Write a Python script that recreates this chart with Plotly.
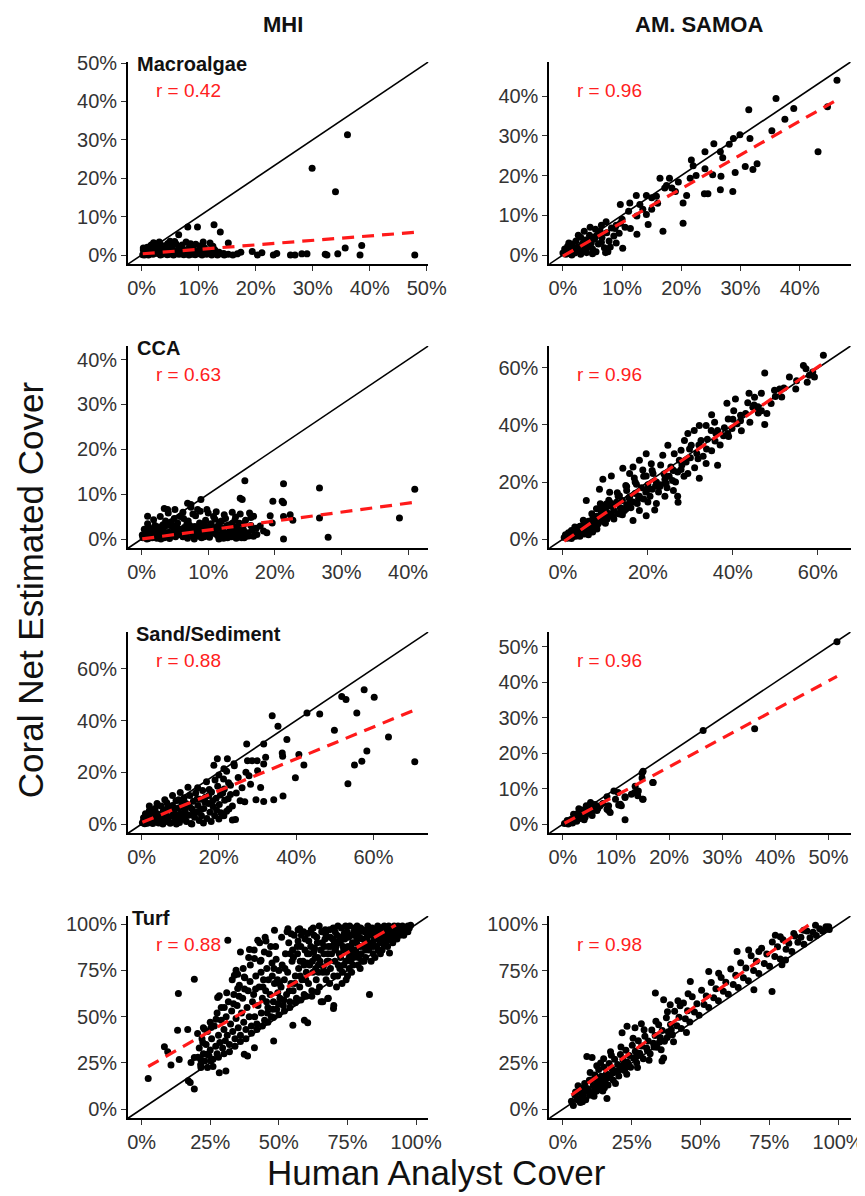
import plotly.graph_objects as go

# Geometry is specified in target-picture pixels (865x1196) and mapped to page pixels.
# Measured on the previous renders: picture_x = 0.98 * page_x, picture_y = 8 + 0.9933 * page_y
SX, TY, SY = 0.98, 8.0, 0.9933
OFF = 8  # default body margin of the page
W, H = 875, 1188


def fx(P):
    return (P / SX - OFF) / W


def fy(P):
    return 1 - ((P - TY) / SY - OFF) / H


# ---------------- data (percent cover) ----------------
PANEL_NAMES = ["Macroalgae", "", "CCA", "", "Sand/Sediment", "", "Turf", ""]
COLUMN_TITLES = ["MHI", "AM. SAMOA"]
R_LABELS = ["r = 0.42", "r = 0.96", "r = 0.63", "r = 0.96",
            "r = 0.88", "r = 0.96", "r = 0.88", "r = 0.98"]
# regression lines: intercept, slope
REG_INTERCEPT = [0.3, -0.3, 0.0, -1.1, 0.57, 0.0, 21.0, 4.3]
REG_SLOPE = [0.117, 0.85, 0.2, 1.024, 0.616, 0.807, 0.848, 1.068]
TICK_STEP = [10, 10, 10, 20, 20, 10, 25, 25]

MHI_MACRO = [
    (36.1, 31.3), (29.9, 22.6), (34.0, 16.5), (12.7, 7.9), (9.8, 7.3), (8.1, 7.3),
    (6.5, 5.3), (13.8, 6.0), (15.2, 3.1), (10.8, 3.4), (12.0, 3.1), (10.3, 1.8),
    (7.8, 3.4), (8.6, 2.9), (5.8, 3.5), (4.6, 3.0), (3.1, 3.4), (1.6, 2.4), (0.3, 1.3),
    (17.4, 0.7), (19.4, 0.9), (20.3, 0.0), (21.1, 0.6), (23.1, 0.0), (23.7, 0.4),
    (26.1, 0.0), (26.9, 0.0), (28.1, 0.3), (29.0, 0.3), (32.2, 0.2), (32.5, 0.0),
    (34.4, 0.3), (35.7, 1.8), (38.3, 0.0), (38.6, 2.5), (47.9, 0.0),
    (0.2, 0.1), (0.5, 0.8), (0.8, 0.3), (1.0, 1.2), (1.2, 0.0), (1.5, 0.6), (1.8, 1.5),
    (2.0, 0.2), (2.3, 0.9), (2.6, 2.0), (2.8, 0.4), (3.0, 1.1), (3.3, 0.0), (3.5, 1.8),
    (3.8, 0.5), (4.0, 2.4), (4.2, 0.9), (4.5, 0.1), (4.8, 1.4), (5.0, 0.4), (5.3, 2.0),
    (5.6, 0.0), (5.9, 1.0), (6.2, 0.3), (6.5, 1.7), (6.8, 0.6), (7.1, 2.6), (7.4, 0.1),
    (7.7, 1.2), (8.0, 0.4), (8.3, 0.0), (8.7, 1.6), (9.0, 0.5), (9.4, 0.1), (9.8, 1.1),
    (10.2, 0.3), (10.6, 0.0), (11.0, 0.8), (11.4, 0.2), (11.8, 1.4), (12.3, 0.0),
    (12.8, 0.5), (13.3, 0.0), (13.8, 0.3), (14.5, 0.0), (15.2, 0.2), (16.0, 0.0),
    (16.8, 0.3), (2.1, 3.2), (3.2, 2.8), (5.0, 3.6), (6.0, 2.9), (8.4, 2.2), (9.5, 2.8),
    (11.0, 1.9), (12.5, 2.3), (13.0, 1.0), (0.5, 0.0), (1.4, 0.3), (2.5, 0.6), (3.6, 0.2),
    (4.4, 0.7), (5.5, 0.5), (6.6, 0.2), (7.5, 0.8), (8.8, 0.2), (10.0, 0.6), (1.0, 2.0),
    (1.7, 2.6), (0.3, 1.8),
    (0.8, 0.8), (1.6, 1.0), (2.4, 1.4), (3.2, 0.8), (4.0, 1.5), (4.8, 0.2), (5.6, 1.2),
    (6.4, 0.9), (7.2, 1.6), (8.0, 1.0), (8.8, 1.3), (9.6, 0.7), (10.4, 1.2), (11.2, 0.5),
    (12.0, 0.8), (12.8, 1.4), (13.6, 0.7), (14.4, 0.4), (2.0, 1.8), (3.6, 2.2),
    (5.2, 1.6), (6.8, 2.0), (9.0, 2.0), (10.6, 2.6),
]

AS_MACRO = [
    (46.3, 44.0), (44.7, 37.3), (43.1, 26.0), (36.0, 39.4), (31.4, 36.6), (39.0, 36.9),
    (37.5, 34.2), (35.3, 31.3), (29.9, 30.3), (28.8, 29.3), (31.6, 29.3), (25.5, 28.0),
    (26.6, 26.0), (28.1, 27.9), (24.0, 26.0), (21.7, 23.9), (22.0, 22.5), (24.0, 21.7),
    (25.3, 20.2), (26.7, 19.8), (29.1, 20.8), (30.8, 22.3), (32.1, 21.5), (32.8, 23.0),
    (26.6, 16.4), (28.7, 16.0), (23.9, 15.4), (24.5, 15.4), (20.9, 15.0), (20.3, 13.1),
    (21.5, 19.3), (19.5, 18.4), (18.4, 16.9), (17.2, 16.9), (16.4, 19.3), (18.0, 19.3),
    (20.3, 8.0), (16.9, 6.0), (14.1, 15.0), (15.0, 14.4), (15.8, 14.8), (12.4, 15.0),
    (13.0, 12.7), (14.1, 10.2), (15.0, 11.5), (11.3, 13.1), (9.7, 12.7), (11.1, 11.0),
    (12.5, 9.8), (9.7, 8.0), (11.4, 6.7), (8.8, 6.7), (12.5, 5.2), (14.4, 7.7),
    (10.1, 1.7), (7.6, 0.8), (6.5, 7.5), (7.3, 8.4), (6.2, 5.4), (5.4, 4.2),
    (17.5, 17.5), (19.0, 16.0), (22.5, 20.0), (27.0, 24.5), (16.0, 13.0), (13.5, 11.5),
    (0.0, 0.5), (0.3, 1.5), (0.5, 0.2), (0.8, 2.2), (1.0, 1.0), (1.2, 0.3), (1.5, 2.8),
    (1.8, 1.4), (2.0, 0.5), (2.2, 3.5), (2.5, 2.0), (2.8, 0.8), (3.0, 4.5), (3.2, 2.6),
    (3.5, 1.2), (3.8, 3.8), (4.0, 0.6), (4.2, 2.2), (4.5, 5.0), (4.8, 3.0), (5.0, 1.5),
    (5.3, 4.0), (5.6, 0.8), (6.0, 2.8), (6.3, 6.0), (6.6, 4.4), (7.0, 1.8), (7.4, 5.6),
    (7.8, 3.5), (8.2, 6.8), (8.6, 4.8), (9.0, 7.5), (9.5, 5.5), (10.0, 9.0), (10.5, 7.0),
    (2.0, 1.8), (3.0, 0.2), (4.0, 1.8), (5.0, 0.3), (1.0, 3.0), (2.6, 5.0), (3.6, 6.0),
    (4.6, 7.0), (5.5, 6.5), (1.5, 0.0), (6.5, 3.2), (7.2, 0.6), (8.0, 2.0), (9.0, 3.0),
    (0.5, 1.0), (1.2, 1.8), (2.4, 0.9), (3.4, 3.0), (4.4, 4.0), (5.8, 5.0),
]

MHI_CCA = [
    (41.0, 11.1), (38.7, 4.7), (28.0, 0.4), (26.7, 11.4), (26.7, 4.7), (21.3, 12.3),
    (21.1, 8.4), (21.3, 8.1), (19.7, 8.4), (21.3, 5.0), (21.3, 0.0), (22.7, 4.2),
    (22.3, 5.4), (19.3, 5.2), (19.6, 3.6), (15.5, 13.0), (14.8, 9.1), (15.1, 8.8),
    (8.9, 8.8), (7.4, 7.7), (8.4, 6.6), (6.9, 8.0), (3.9, 6.6), (0.9, 5.1),
    (16.8, 5.1), (17.8, 2.9), (18.3, 1.8), (17.3, 1.0), (18.8, 1.4), (16.1, 0.7), (15.4, 0.3),
    (0.2, 0.3), (0.6, 1.2), (1.0, 0.1), (1.3, 2.0), (1.7, 0.8), (2.0, 3.0), (2.3, 0.2),
    (2.6, 1.6), (3.0, 0.6), (3.3, 2.4), (3.6, 4.0), (3.9, 1.0), (4.2, 0.1), (4.5, 2.9),
    (4.8, 1.7), (5.1, 0.5), (5.4, 3.6), (5.7, 2.2), (6.0, 0.9), (6.3, 4.6), (6.6, 1.4),
    (6.9, 0.2), (7.2, 3.1), (7.5, 2.0), (7.8, 0.7), (8.1, 5.2), (8.4, 1.1), (8.7, 3.6),
    (9.0, 0.3), (9.3, 2.5), (9.6, 4.2), (9.9, 1.5), (10.2, 0.4), (10.5, 3.0), (10.8, 5.0),
    (11.1, 1.9), (11.4, 0.8), (11.7, 3.8), (12.0, 2.6), (12.3, 0.2), (12.6, 4.6),
    (12.9, 1.3), (13.2, 3.2), (13.5, 0.5), (13.8, 2.3), (14.1, 4.9), (14.4, 1.0),
    (14.7, 3.5), (15.0, 0.3), (15.3, 2.0), (15.6, 4.2), (16.0, 1.4), (16.4, 3.0),
    (0.4, 2.2), (0.9, 3.4), (1.8, 4.3), (2.8, 5.0), (4.0, 5.8), (5.0, 6.6), (6.2, 6.0),
    (7.4, 7.1), (8.8, 6.2), (10.0, 5.8), (11.2, 6.1), (12.4, 5.4), (13.6, 6.0),
    (14.8, 5.6), (16.2, 5.8), (3.4, 6.8), (1.5, 1.5), (2.5, 2.7), (3.5, 1.2), (4.4, 3.8),
    (5.6, 1.0), (6.4, 2.6), (7.0, 4.0), (8.0, 2.8), (8.6, 0.6), (9.4, 3.4), (10.4, 1.8),
    (11.0, 4.4), (11.8, 1.0), (12.8, 3.0), (13.4, 1.8), (14.2, 0.2), (2.2, 1.0),
    (3.2, 3.2), (4.6, 0.8), (5.3, 2.0), (6.8, 3.4), (7.6, 1.2), (9.2, 1.8), (10.8, 2.4),
    (12.2, 1.6), (0.1, 0.9), (1.1, 2.6), (2.9, 0.0), (4.9, 4.6), (7.9, 0.0), (11.6, 0.0),
    (13.1, 0.9), (15.5, 1.0), (16.8, 0.6), (17.2, 2.4),
    (0.5, 0.6), (1.2, 1.0), (1.9, 1.9), (2.7, 0.9), (3.4, 0.3), (4.1, 1.5), (4.8, 2.4),
    (5.5, 1.4), (6.2, 0.5), (6.9, 1.8), (7.6, 2.7), (8.3, 1.7), (9.0, 1.0), (9.7, 2.2),
    (10.4, 3.4), (11.1, 1.2), (11.8, 2.4), (12.5, 0.6), (13.2, 2.6), (13.9, 1.2),
    (14.6, 2.0), (15.3, 3.2), (0.8, 0.0), (1.6, 0.3), (2.4, 1.3), (3.1, 2.0), (3.8, 3.0),
    (4.5, 1.1), (5.2, 3.0), (5.9, 1.8), (6.6, 0.9), (7.3, 2.4), (8.0, 1.3), (8.7, 2.3),
    (9.4, 0.5), (10.1, 2.8), (10.8, 1.4), (11.5, 3.0), (12.2, 2.2), (12.9, 0.3),
    (13.6, 3.5), (14.3, 2.7), (15.0, 1.6), (15.7, 0.6), (16.6, 2.0), (5.8, 5.0),
    (7.7, 5.6), (9.8, 6.6), (12.0, 4.0), (14.0, 4.2), (16.4, 4.8),
]

AS_CCA = [
    (61.3, 64.5), (56.6, 60.9), (57.2, 59.7), (58.8, 58.6), (58.0, 57.4), (59.2, 56.8),
    (53.3, 56.8), (47.5, 58.2), (54.8, 52.6), (49.8, 52.2), (51.0, 52.6), (46.7, 51.1),
    (45.1, 49.7), (43.8, 51.1), (44.7, 46.2), (45.9, 46.4), (46.7, 45.0), (47.5, 40.2),
    (40.6, 49.1), (38.6, 47.6), (40.2, 45.0), (38.9, 42.1), (41.0, 40.4), (41.8, 41.5),
    (35.0, 43.6), (35.7, 41.0), (36.4, 38.1), (38.8, 37.0), (34.9, 38.1), (33.7, 39.8),
    (32.1, 39.8), (30.9, 38.1), (29.4, 37.0), (28.6, 34.6), (30.2, 32.9), (32.5, 34.6),
    (36.4, 25.9), (33.7, 26.5), (32.1, 21.3), (29.4, 23.0), (27.4, 27.6), (27.8, 31.1),
    (26.2, 29.9), (25.4, 25.3), (24.7, 32.9), (23.5, 29.4), (25.9, 24.2), (24.3, 19.6),
    (22.8, 18.4), (21.2, 23.0), (27.1, 12.9), (21.6, 10.2), (19.6, 29.9), (18.0, 27.6),
    (16.5, 25.3), (15.7, 23.0), (14.1, 24.8), (19.6, 22.1), (17.3, 19.2), (15.0, 18.4),
    (11.4, 22.1), (9.4, 21.0), (8.6, 17.5), (11.0, 16.4), (13.3, 15.2), (15.7, 14.7),
    (12.6, 12.9), (10.2, 12.3), (5.5, 13.5), (7.9, 10.6), (10.2, 9.4), (13.3, 8.8),
    (14.9, 10.6), (16.5, 6.5), (19.6, 8.2),
    (0.3, 0.5), (0.6, 1.5), (1.0, 0.3), (1.3, 2.2), (1.6, 1.0), (2.0, 3.0), (2.3, 0.8),
    (2.6, 2.0), (3.0, 3.8), (3.3, 1.5), (3.6, 2.8), (4.0, 4.5), (4.3, 2.0), (4.6, 3.5),
    (5.0, 5.5), (5.3, 2.8), (5.6, 4.2), (6.0, 6.2), (6.3, 3.5), (6.6, 5.0), (7.0, 7.0),
    (7.3, 4.5), (7.6, 6.0), (8.0, 8.0), (8.3, 5.4), (8.6, 7.0), (9.0, 9.2), (9.3, 6.2),
    (9.6, 8.0), (10.0, 10.5), (10.4, 7.0), (10.8, 9.0), (11.2, 11.5), (11.6, 8.0),
    (12.0, 10.0), (12.5, 12.5), (13.0, 9.0), (13.5, 11.0), (14.0, 13.5), (14.5, 10.0),
    (15.0, 12.0), (15.5, 14.5), (16.0, 11.0), (16.5, 13.0), (17.0, 16.0), (17.5, 12.5),
    (18.0, 15.0), (18.5, 18.0), (19.0, 14.0), (19.5, 16.5), (20.0, 19.0), (20.5, 15.0),
    (21.0, 17.5), (22.0, 20.0), (22.5, 16.5), (23.0, 19.0), (24.0, 21.0), (24.5, 18.0),
    (25.0, 22.0), (26.0, 24.0), (26.5, 20.0), (27.0, 23.5), (28.0, 26.0), (28.5, 22.0),
    (29.0, 27.0), (30.0, 28.5), (31.0, 25.0), (31.5, 30.0), (32.0, 33.0), (33.0, 29.0),
    (34.0, 35.0), (35.0, 31.0), (36.0, 37.0), (37.0, 33.0), (38.0, 39.0), (39.0, 36.0),
    (40.0, 42.0), (42.0, 38.0), (43.0, 44.0), (44.0, 41.0), (45.0, 47.0), (48.0, 44.0),
    (50.0, 50.0), (52.0, 53.0), (6.0, 1.5), (8.0, 3.5), (10.0, 5.5), (12.0, 7.0),
    (14.0, 8.5), (4.0, 1.0), (9.0, 11.0), (11.0, 13.0), (13.0, 15.0), (15.0, 17.0),
    (17.0, 20.0), (19.0, 22.0), (21.0, 24.0), (23.0, 26.0), (18.0, 10.0), (20.0, 13.0),
    (22.0, 12.5), (24.0, 15.0), (26.0, 17.0), (27.0, 15.0), (2.0, 0.2), (3.0, 1.0),
    (5.0, 1.8), (7.0, 2.5),
    (2.8, 4.2), (4.8, 6.6), (6.8, 8.9), (8.8, 12.4), (10.8, 13.6), (12.8, 16.2),
    (14.8, 18.8), (16.8, 21.4), (18.8, 24.2), (20.8, 26.4), (3.8, 1.6), (5.8, 3.2),
    (7.8, 4.4), (9.8, 6.0), (11.8, 7.8), (13.8, 10.8), (15.8, 12.8), (17.8, 14.2),
    (19.8, 17.2), (21.8, 18.6), (23.8, 22.8), (25.8, 20.5), (27.8, 24.4), (29.8, 31.6),
    (31.8, 28.2), (33.8, 31.6), (35.8, 34.4), (37.8, 36.2), (39.8, 38.8), (41.8, 43.4),
    (43.5, 47.8), (46.0, 44.2), (49.0, 47.5), (51.5, 49.8), (55.0, 55.5), (57.5, 55.0),
    (1.8, 2.4), (2.5, 1.2), (3.5, 3.4), (4.5, 2.4), (5.5, 4.8), (6.5, 3.0), (7.5, 5.2),
    (8.5, 6.4), (9.5, 7.4), (10.5, 8.4),
]

MHI_SAND = [
    (70.7, 24.1), (63.9, 33.6), (60.2, 49.0), (57.6, 51.9), (51.8, 49.3), (52.9, 48.1),
    (55.7, 42.9), (49.9, 36.3), (58.3, 28.2), (57.0, 24.3), (55.1, 22.8), (53.4, 15.6),
    (46.1, 42.5), (42.8, 42.9), (33.8, 41.9), (35.3, 37.8), (37.6, 32.7), (36.4, 27.5),
    (36.5, 26.2), (40.7, 26.9), (42.0, 22.8), (39.8, 17.9), (36.6, 10.9), (34.2, 9.4),
    (31.6, 8.7), (29.6, 9.4), (27.2, 30.9), (31.6, 30.9), (28.6, 24.5), (29.9, 24.5),
    (31.6, 23.2), (32.1, 25.8), (27.4, 24.5), (30.0, 20.6), (27.8, 18.7), (28.2, 15.4),
    (30.8, 14.1), (26.7, 8.6), (19.6, 25.2), (22.2, 25.2), (18.7, 22.7), (21.3, 21.4),
    (23.9, 23.3), (22.6, 5.8), (24.3, 1.8), (23.5, 1.6), (21.3, 3.2),
    (0.2, 0.5), (0.5, 2.5), (0.8, 0.1), (1.0, 4.0), (1.2, 1.2), (1.5, 0.3), (1.8, 2.8),
    (2.0, 5.2), (2.3, 1.0), (2.6, 3.6), (2.9, 0.2), (3.2, 2.0), (3.5, 6.0), (3.8, 4.2),
    (4.1, 1.3), (4.4, 0.4), (4.7, 3.2), (5.0, 7.0), (5.3, 2.2), (5.6, 5.0), (5.9, 0.8),
    (6.2, 3.8), (6.5, 8.2), (6.8, 1.6), (7.1, 5.8), (7.4, 0.3), (7.7, 3.0), (8.0, 7.2),
    (8.3, 4.4), (8.6, 1.2), (8.9, 9.0), (9.2, 2.4), (9.5, 6.2), (9.8, 0.6), (10.1, 4.0),
    (10.4, 8.0), (10.7, 2.0), (11.0, 10.2), (11.3, 5.2), (11.6, 1.0), (11.9, 7.0),
    (12.2, 3.4), (12.5, 11.0), (12.8, 0.2), (13.1, 5.8), (13.4, 8.8), (13.7, 2.6),
    (14.0, 12.0), (14.3, 4.6), (14.6, 7.2), (14.9, 1.4), (15.2, 9.6), (15.5, 3.2),
    (15.8, 13.0), (16.1, 6.0), (16.5, 10.4), (16.9, 2.2), (17.3, 8.0), (17.7, 4.6),
    (18.1, 12.4), (18.5, 6.8), (18.9, 3.2), (19.3, 10.0), (19.7, 14.6), (20.1, 7.6),
    (20.5, 4.4), (21.0, 12.0), (21.5, 9.2), (22.0, 5.0), (22.5, 16.0), (23.0, 11.4),
    (23.5, 7.0), (12.0, 14.2), (10.0, 12.2), (8.0, 11.0), (6.0, 9.4), (4.0, 8.0),
    (2.0, 7.0), (5.5, 0.0), (9.0, 0.0), (13.0, 0.0), (16.0, 0.4), (18.0, 1.0), (20.0, 2.0),
    (3.0, 3.0), (6.6, 6.0), (9.6, 9.4), (11.5, 8.0), (14.5, 14.0), (16.8, 16.4),
    (20.0, 19.0), (22.0, 20.4), (24.0, 22.5), (19.0, 17.0), (17.5, 13.4), (25.0, 18.0),
    (26.0, 14.0), (24.5, 12.0), (27.0, 20.0), (25.5, 9.0), (23.0, 15.0), (21.2, 17.4),
    (0.5, 1.2), (1.4, 3.4), (2.4, 2.2), (3.4, 4.8), (4.4, 2.6), (5.4, 4.0), (6.4, 1.8),
    (7.4, 6.8), (8.4, 5.6), (9.4, 3.6), (10.4, 6.4), (11.4, 3.0), (12.4, 6.8),
    (13.4, 4.0), (14.4, 9.8), (15.4, 5.6), (16.4, 8.4), (17.4, 11.0), (18.4, 9.0),
    (19.4, 5.4), (20.4, 11.2), (21.4, 13.6), (22.4, 9.8),
]

AS_SAND = [
    (51.6, 51.4), (26.4, 26.4), (36.1, 26.9), (16.9, 11.7), (14.9, 14.4), (14.9, 13.0),
    (13.6, 10.7), (14.2, 9.3), (15.1, 7.0), (12.9, 8.4), (11.7, 7.7), (9.9, 7.0),
    (10.5, 5.4), (8.3, 7.7), (8.3, 4.2), (8.9, 3.3), (10.8, 5.6), (11.7, 1.2), (9.6, 9.3),
    (15.1, 14.9), (17.0, 11.7), (13.5, 8.9), (14.1, 8.0), (15.0, 7.0), (11.7, 7.5),
    (10.4, 8.9), (11.0, 5.2), (8.6, 5.2), (8.6, 3.8), (7.0, 5.2), (6.4, 3.8),
    (5.2, 6.1), (4.6, 4.7), (4.0, 3.3), (3.0, 4.3), (3.3, 2.5), (2.7, 1.6),
    (0.3, 0.2), (0.8, 1.0), (1.2, 0.5), (1.5, 1.3), (2.0, 1.0), (2.3, 2.0), (2.6, 0.8),
    (3.0, 1.5), (3.4, 2.6), (3.8, 3.2), (4.2, 2.0), (4.5, 3.8), (5.0, 3.0), (5.3, 4.5),
    (5.8, 4.0), (6.0, 5.5), (4.8, 4.6), (4.4, 5.2), (3.6, 4.0), (2.8, 3.0), (2.0, 2.8),
    (1.0, 0.0), (1.8, 0.3), (2.2, 1.5), (3.0, 2.2), (4.0, 1.2), (5.5, 2.4), (6.6, 4.5),
    (7.5, 5.8),
]

MHI_TURF = [
    (2.4, 16.6), (19.2, 10.8), (17.0, 15.3), (17.7, 14.4), (10.7, 23.8), (13.7, 26.8),
    (8.3, 33.7), (9.5, 31.0), (13.1, 42.7), (13.4, 62.5), (19.2, 70.3), (16.8, 43.1),
    (20.4, 40.9), (31.4, 91.4), (28.3, 19.7), (30.7, 20.6), (48.4, 96.7), (48.1, 36.8),
    (41.1, 33.2), (37.4, 29.6), (38.6, 28.7), (55.1, 45.4), (59.3, 48.1), (60.5, 46.7),
    (69.9, 54.4), (83.0, 62.0), (90.3, 84.5), (65.4, 58.0), (67.8, 59.8), (53.3, 97.6),
    (57.6, 97.6), (54.5, 94.9), (42.3, 91.4), (45.3, 90.9), (44.7, 85.0), (39.3, 86.4),
    (41.1, 81.4), (43.5, 80.5), (34.4, 75.1), (33.8, 72.4), (37.4, 71.5), (35.0, 65.2),
    (27.7, 60.4), (28.3, 61.3), (30.1, 54.9), (27.1, 48.6), (25.3, 44.1), (22.9, 43.2),
    (22.3, 36.0), (19.2, 27.9), (18.0, 25.2), (21.6, 22.5), (25.3, 26.1), (23.8, 29.7),
    (20.5, 28), (21, 33), (21.5, 24), (22, 38), (22.5, 30), (23, 26), (23.5, 35), (24, 42),
    (24.5, 29), (25, 32), (25.5, 38), (26, 27), (26.5, 45), (27, 34), (27.5, 30), (28, 40),
    (28.5, 36), (29, 48), (29.5, 33), (30, 43), (24, 22.5), (26, 23), (28, 28), (30, 30),
    (22.5, 44), (25, 47), (27.5, 52), (29, 55), (30.5, 37), (21.5, 27),
    (30.8, 50), (31.2, 40), (31.6, 58), (32, 35), (32.4, 46), (32.8, 53), (33.2, 42),
    (33.6, 62), (34, 38), (34.4, 49), (34.8, 56), (35.2, 44), (35.6, 67), (36, 40),
    (36.4, 52), (36.8, 60), (37.2, 47), (37.6, 71), (38, 43), (38.4, 55), (38.8, 64),
    (39.2, 50), (39.6, 78), (40, 45), (40.4, 58), (32, 31), (34, 34), (36, 36.5), (38, 38),
    (40, 41), (33, 70), (35, 73), (37, 76), (39, 82), (31, 63), (33.5, 57), (35.5, 61),
    (37.5, 65), (39.5, 69), (36, 85),
    (40.8, 62), (41.2, 50), (41.6, 72), (42, 46), (42.4, 56), (42.8, 66), (43.2, 80),
    (43.6, 52), (44, 60), (44.4, 70), (44.8, 48), (45.2, 64), (45.6, 76), (46, 55),
    (46.4, 84), (46.8, 62), (47.2, 50), (47.6, 72), (48, 58), (48.4, 68), (48.8, 88),
    (49.2, 54), (49.6, 63), (50, 75), (50.4, 60), (41, 86), (43, 90), (45, 93), (47, 88),
    (49, 81), (42, 43), (44, 45), (46, 47), (48, 49.5), (50, 51), (41.5, 65), (43.5, 74),
    (45.5, 58), (47.5, 79), (49.5, 70),
    (50.8, 66), (51.2, 78), (51.6, 56), (52, 70), (52.4, 84), (52.8, 62), (53.2, 74),
    (53.6, 90), (54, 58), (54.4, 68), (54.8, 80), (55.2, 64), (55.6, 94), (56, 72),
    (56.4, 60), (56.8, 84), (57.2, 76), (57.6, 66), (58, 88), (58.4, 70), (58.8, 80),
    (59.2, 62), (59.6, 92), (60, 74), (60.4, 84), (52, 53), (54, 55), (56, 57.5), (58, 59),
    (60, 61), (51, 93), (53, 96), (57, 97), (59, 96), (55, 86), (57, 91),
    (60.8, 68), (61.2, 78), (61.6, 88), (62, 64), (62.4, 74), (62.8, 94), (63.2, 82),
    (63.6, 70), (64, 90), (64.4, 78), (64.8, 66), (65.2, 86), (65.6, 96), (66, 74),
    (66.4, 84), (66.8, 92), (67.2, 70), (67.6, 80), (68, 88), (68.4, 97), (68.8, 76),
    (69.2, 84), (69.6, 92), (70, 72), (70.4, 80), (62, 61), (64, 63.5), (66, 58), (68, 60),
    (70, 56), (61, 84), (63, 87), (65, 80), (67, 95), (69, 88), (60.5, 95), (62.5, 98),
    (64.5, 74), (66.5, 88), (68.5, 68),
    (70.8, 88), (71.2, 94), (71.6, 78), (72, 84), (72.4, 90), (72.8, 98), (73.2, 74),
    (73.6, 86), (74, 92), (74.4, 80), (74.8, 96), (75.2, 88), (75.6, 76), (76, 84),
    (76.4, 94), (76.8, 90), (77.2, 82), (77.6, 98), (78, 86), (78.4, 92), (78.8, 78),
    (79.2, 96), (79.6, 88), (80, 84), (70.5, 96), (72.5, 82), (74.5, 70), (76.5, 74),
    (78.5, 99), (80.5, 92), (71, 66), (73, 68), (75, 72), (77, 78), (79, 82), (71.8, 91),
    (73.8, 95), (75.8, 99), (77.8, 94), (79.8, 98),
    (80.8, 88), (81.2, 96), (81.6, 82), (82, 92), (82.4, 99), (82.8, 86), (83.2, 94),
    (83.6, 90), (84, 98), (84.4, 84), (84.8, 92), (85.2, 96), (85.6, 88), (86, 99),
    (86.4, 94), (86.8, 90), (87.2, 97), (87.6, 86), (88, 93), (88.4, 99), (88.8, 91),
    (89.2, 96), (89.6, 88), (90, 94), (81, 80), (85, 82), (87, 84), (89, 90), (82, 97),
    (84, 95), (86, 92), (88, 96), (90, 99),
    (90.5, 92), (91, 97), (91.5, 95), (92, 99), (92.5, 93), (93, 96), (93.5, 98), (94, 94),
    (94.5, 97), (95, 99), (95.5, 96), (96, 98), (96.5, 97), (97, 99), (97.5, 98),
    (98, 99.5), (91.5, 90), (93, 92), (94, 95), (92, 97), (95.5, 94), (97, 96),
    (55.3, 82), (56.7, 88), (58.2, 94), (59.5, 86), (60.9, 91), (61.8, 97), (62.7, 85),
    (63.8, 93), (64.7, 99), (65.8, 90), (66.9, 97), (67.9, 84), (68.7, 93), (69.8, 98),
    (70.6, 86), (71.5, 99), (72.3, 93), (73.4, 88), (74.3, 99), (75.4, 93), (76.3, 87),
    (77.3, 96), (78.3, 90), (79.4, 93), (80.3, 97), (81.4, 91), (82.3, 94), (83.4, 97),
    (84.3, 88), (85.4, 93), (86.3, 97), (87.4, 92), (88.3, 95), (89.4, 98), (90.4, 96),
    (91.3, 98), (92.4, 95), (93.4, 99), (94.6, 96), (95.8, 98), (60.3, 79), (62.2, 80),
    (64.2, 82), (66.2, 77), (68.2, 80), (70.2, 90), (72.2, 76), (74.2, 86), (76.2, 80),
    (78.2, 84), (80.2, 80), (82.2, 88), (84.2, 90), (86.2, 86), (88.2, 89), (89.8, 92),
    (57.8, 80), (59.8, 70), (63.4, 76), (67.4, 74), (71.4, 72), (73.6, 78), (75.6, 82),
    (77.6, 86), (79.6, 76), (81.6, 86), (83.6, 80), (85.6, 95), (87.6, 98),
    (44.2, 66), (46.2, 70), (48.2, 76), (50.2, 68), (52.2, 76), (54.2, 84), (45.8, 52),
    (47.8, 54), (49.8, 57), (51.8, 59), (53.8, 64), (55.8, 68), (57.8, 72), (59.2, 78),
]

AS_TURF = [
    (16.0, 5.7), (36.0, 26.0), (36.6, 27.7), (23.3, 44.8), (21.5, 41.3), (33.6, 62.8),
    (36.6, 59.2), (39.0, 56.5), (46.3, 69.1), (53.0, 74.5), (56.6, 73.6), (63.3, 85.3),
    (67.5, 86.2), (71.2, 85.3), (77.2, 94.2), (79.0, 93.3), (83.9, 95.1), (87.5, 96.9),
    (91.8, 99.6), (96.6, 98.7), (69.4, 64.6), (76.0, 63.7), (79.6, 78.1), (80.9, 80.8),
    (3.1, 4.2), (3.8, 2.0), (4.4, 7.5), (5.2, 5.1), (5.9, 9.8), (6.3, 3.6), (6.8, 11.4),
    (7.4, 7.2), (7.9, 13.9), (8.3, 5.0), (8.7, 28.5), (9.2, 10.3), (9.6, 15.6), (10.1, 8.1),
    (10.6, 27.9), (11.0, 12.7), (11.6, 18.4), (12.1, 9.6), (12.5, 15.1), (13.0, 21.5),
    (13.4, 12.2), (13.9, 17.8), (14.5, 9.8), (14.9, 22.6), (15.3, 15.9), (15.8, 19.2),
    (16.4, 13.0), (16.8, 24.7), (17.2, 18.3), (17.9, 21.7), (18.3, 15.6), (18.8, 27.0),
    (19.4, 20.5), (19.9, 24.1), (20.3, 17.9), (20.9, 29.6), (21.4, 23.0), (21.8, 26.8),
    (22.4, 20.9), (22.9, 31.8), (23.5, 25.4), (24.1, 29.0), (24.6, 22.6), (25.2, 34.5),
    (25.7, 27.5), (26.3, 31.3), (26.8, 25.1), (27.4, 37.0), (27.9, 30.2), (28.6, 34.2),
    (29.2, 27.3), (29.8, 39.5), (30.4, 33.1), (31.0, 36.9), (31.7, 30.0), (32.3, 42.8),
    (32.9, 35.6), (33.5, 39.8), (34.2, 33.5), (34.8, 45.7), (35.4, 38.7), (36.1, 42.5),
    (36.9, 36.8), (37.6, 49.4), (38.3, 41.9), (39.1, 45.8), (39.8, 40.2), (40.6, 53.0),
    (41.4, 45.1), (42.2, 49.7), (43.0, 43.6), (43.8, 57.5), (44.5, 48.9), (45.3, 53.2),
    (46.1, 47.1), (47.0, 60.8), (47.8, 52.6), (48.7, 57.0), (49.5, 50.8), (50.4, 64.3),
    (51.3, 56.7), (52.1, 61.2), (53.0, 55.0), (53.9, 68.6), (54.8, 60.3), (55.6, 65.1),
    (56.5, 58.6), (57.5, 71.3), (58.3, 63.8), (59.2, 68.7), (60.1, 62.2), (61.0, 75.9),
    (61.9, 67.5), (62.8, 72.5), (63.7, 65.8), (64.6, 79.2), (65.6, 71.1), (66.5, 76.4),
    (67.4, 69.5), (68.4, 83.0), (69.3, 75.0), (70.3, 80.1), (71.2, 73.4), (72.2, 87.1),
    (73.2, 78.8), (74.1, 84.0), (75.1, 77.4), (76.1, 90.5), (77.0, 82.6), (78.0, 87.9),
    (79.0, 81.3), (80.0, 91.7), (81.1, 86.5), (82.1, 89.8), (83.2, 85.4), (84.3, 93.8),
    (85.4, 90.3), (86.5, 93.0), (87.6, 89.2), (88.7, 96.4), (89.8, 92.8), (90.9, 95.7),
    (92.1, 94.0), (93.3, 97.6), (94.4, 96.3), (95.6, 98.8), (96.8, 97.2),
    (5.5, 12.6), (7.1, 4.0), (9.9, 19.8), (11.3, 6.9), (13.7, 24.9), (15.1, 11.6),
    (17.6, 29.2), (19.1, 13.9), (21.1, 33.6), (23.2, 18.8), (25.5, 38.4), (27.1, 22.5),
    (29.5, 43.0), (31.3, 26.4), (33.8, 47.6), (35.7, 32.1), (38.0, 52.7), (40.2, 36.4),
    (42.6, 55.9), (44.9, 41.5), (12.8, 10.4), (18.1, 19.6), (23.8, 23.1), (28.1, 29.1),
    (33.1, 33.6), (37.9, 38.7), (6.6, 8.4), (8.1, 9.6), (14.2, 14.8), (16.1, 16.7),
    (20.6, 21.3), (22.1, 24.1), (26.6, 28.4), (30.7, 31.6), (35.1, 36.3), (39.4, 42.9),
    (6.2, 5.4), (8.8, 11.2), (9.7, 7.5), (11.3, 9.3), (12.7, 13.8), (14.3, 12.4),
    (17.3, 31.0), (26.2, 44.0), (28.5, 46.2), (41.8, 58.7), (45.5, 62.4), (10.3, 15.8),
    (4.6, 9.3), (12.3, 23.5), (14.8, 27.3),
]

PANELS = [MHI_MACRO, AS_MACRO, MHI_CCA, AS_CCA, MHI_SAND, AS_SAND, MHI_TURF, AS_TURF]

# ---------------- layout geometry (target picture pixels) ----------------
COL_X = [(128, 429), (550, 852)]
ROW_Y = [(60, 263), (345, 548), (632, 834), (917, 1120)]
LABEL_X = [135, 135, 134, 130]

FONT = "Liberation Sans, Arial, Helvetica, sans-serif"
TICK_COLOR = "#333333"

fig = go.Figure()
layout = dict(
    width=W, height=H, margin=dict(l=0, r=0, t=0, b=0),
    paper_bgcolor="white", plot_bgcolor="white", showlegend=False,
    font=dict(family=FONT, color="black"),
)
annotations = []

for i, pts in enumerate(PANELS):
    row, col = divmod(i, 2)
    xs = [p[0] for p in pts]
    ys = [p[1] for p in pts]
    lim = max(max(xs), max(ys))
    rng = [-0.05 * lim, 1.05 * lim]
    n = i + 1
    xa = "x" if n == 1 else f"x{n}"
    ya = "y" if n == 1 else f"y{n}"
    x0, x1 = COL_X[col]
    y0, y1 = ROW_Y[row]
    axis_common = dict(
        range=rng, showgrid=False, zeroline=False, showline=True,
        linecolor="black", linewidth=1.6, ticks="outside", ticklen=5,
        tickwidth=1.3, tickcolor="#333333", tickmode="linear", tick0=0,
        dtick=TICK_STEP[i], ticksuffix="%",
        tickfont=dict(family=FONT, size=20, color=TICK_COLOR),
    )
    layout["xaxis" if n == 1 else f"xaxis{n}"] = dict(
        axis_common, domain=[fx(x0), fx(x1)], anchor=ya)
    layout["yaxis" if n == 1 else f"yaxis{n}"] = dict(
        axis_common, domain=[fy(y1), fy(y0)], anchor=xa)

    fig.add_trace(go.Scatter(
        x=xs, y=ys, mode="markers", xaxis=xa, yaxis=ya,
        marker=dict(color="black", size=7, line=dict(width=0)),
        cliponaxis=True))
    # 1:1 line
    fig.add_trace(go.Scatter(
        x=rng, y=rng, mode="lines", xaxis=xa, yaxis=ya,
        line=dict(color="black", width=1.6)))
    # regression line (clipped to limits)
    b, m = REG_INTERCEPT[i], REG_SLOPE[i]
    rx0 = min(xs)
    rx1 = min(max(xs), (lim - b) / m)
    fig.add_trace(go.Scatter(
        x=[rx0, rx1], y=[b + m * rx0, b + m * rx1], mode="lines",
        xaxis=xa, yaxis=ya,
        line=dict(color="#FF1A1A", width=3.2, dash="12px,8px")))

    if PANEL_NAMES[i]:
        annotations.append(dict(
            x=fx(LABEL_X[row]), y=fy(y0 + 2), xref="paper", yref="paper",
            text=f"<b>{PANEL_NAMES[i]}</b>", showarrow=False,
            xanchor="left", yanchor="middle",
            font=dict(family=FONT, size=20, color="#111111")))
    annotations.append(dict(
        x=fx(x0 + 26), y=fy(y0 + 29), xref="paper", yref="paper",
        text=R_LABELS[i], showarrow=False, xanchor="left", yanchor="middle",
        font=dict(family=FONT, size=19, color="#FF2020")))

for c, title in enumerate(COLUMN_TITLES):
    cx = [283, 700][c]
    annotations.append(dict(
        x=fx(cx), y=fy(22), xref="paper", yref="paper",
        text=f"<b>{title}</b>", showarrow=False, xanchor="center", yanchor="middle",
        font=dict(family=FONT, size=22, color="#111111")))

annotations.append(dict(
    x=fx(437), y=fy(1174), xref="paper", yref="paper",
    text="Human Analyst Cover", showarrow=False, xanchor="center", yanchor="middle",
    font=dict(family=FONT, size=35, color="#111111")))
annotations.append(dict(
    x=fx(30), y=fy(590), xref="paper", yref="paper",
    text="Coral Net Estimated Cover", showarrow=False, textangle=-90,
    xanchor="center", yanchor="middle",
    font=dict(family=FONT, size=35, color="#111111")))

layout["annotations"] = annotations
fig.update_layout(**layout)
fig.write_html("out.html", config={"displayModeBar": False})
